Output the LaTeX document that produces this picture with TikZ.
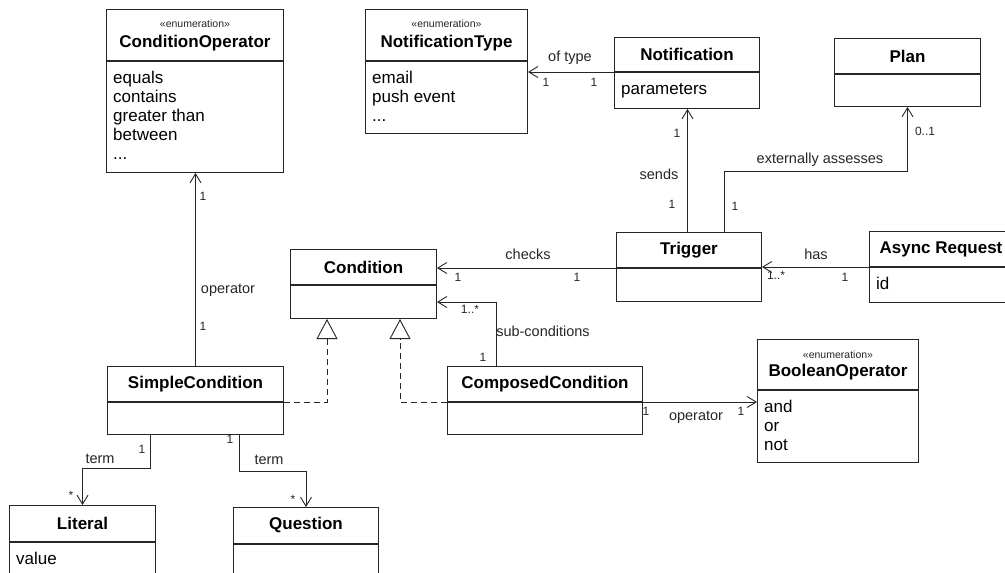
\documentclass[tikz,border=0pt]{standalone}
\usepackage{fontspec}
\setmainfont{Liberation Sans}
\usetikzlibrary{arrows.meta}

\colorlet{ink}{black!85}
\tikzset{
  hdr/.style={draw=ink, line width=1pt, fill=white, inner sep=0pt},
  bdy/.style={draw=ink, line width=1pt, fill=white, inner sep=0pt},
  cname/.style={inner sep=0pt, text=black, font=\fontsize{17}{20}\selectfont\bfseries},
  stereo/.style={inner sep=0pt, text=ink, font=\fontsize{10.5}{12}\selectfont},
  attrs/.style={anchor=north west, align=left, inner sep=0pt, text=black,
                font=\fontsize{17}{19}\selectfont},
  lbl/.style={inner sep=0pt, text=ink, font=\fontsize{14.5}{16}\selectfont},
  mult/.style={inner sep=0pt, text=ink, font=\fontsize{12}{14}\selectfont},
  assoc/.style={draw=ink, line width=0.9pt, -{Straight Barb[length=9pt,width=11pt]}},
  realize/.style={draw=ink, line width=0.9pt, dash pattern=on 6pt off 4pt,
                  -{Triangle[open,length=20pt,width=21pt,fill=white]}},
}

% header box (#1) and body box (#1-b): name, left, top, width, header height, body height
\newcommand{\classbox}[6]{%
  \node[hdr, minimum width=#4pt, minimum height=#5pt, anchor=north west] (#1) at (#2,#3) {};
  \node[bdy, minimum width=#4pt, minimum height=#6pt, anchor=north west] (#1-b) at (#1.south west) {};}

\begin{document}
\begin{tikzpicture}[x=1pt,y=-1pt]
\clip (0,0) rectangle (1005,573);
\fill[white] (0,0) rectangle (1005,573);

% ---------- classes ----------
\classbox{co}{106}{9}{177}{51}{111}
\node[stereo] (co-s) at ([yshift=-15pt]co.north) {«enumeration»};
\node[cname]  (co-n) at ([yshift=-34pt]co.north) {ConditionOperator};
\node[attrs]  (co-a) at ([shift={(7pt,-10pt)}]co-b.north west) {equals\\contains\\greater than\\between\\...};

\classbox{nt}{365}{9}{162}{51}{72}
\node[stereo] (nt-s) at ([yshift=-15pt]nt.north) {«enumeration»};
\node[cname]  (nt-n) at ([yshift=-34pt]nt.north) {NotificationType};
\node[attrs]  (nt-a) at ([shift={(7pt,-10pt)}]nt-b.north west) {email\\push event\\...};

\classbox{no}{614}{37}{145}{34}{36}
\node[cname] (no-n) at (no.center) {Notification};
\node[attrs] (no-a) at ([shift={(7pt,-11pt)}]no-b.north west) {parameters};

\classbox{pl}{834}{38}{146}{35}{32}
\node[cname] (pl-n) at (pl.center) {Plan};

\classbox{tr}{616}{232}{145}{35}{33}
\node[cname] (tr-n) at (tr.center) {Trigger};

\classbox{ar}{869}{231}{143}{35}{35}
\node[cname] (ar-n) at (ar.center) {Async Request};
\node[attrs] (ar-a) at ([shift={(7pt,-10pt)}]ar-b.north west) {id};

\classbox{cd}{290}{249}{146}{35}{33}
\node[cname] (cd-n) at (cd.center) {Condition};

\classbox{sc}{107}{366}{176}{35}{32}
\node[cname] (sc-n) at (sc.center) {SimpleCondition};

\classbox{cc}{447}{366}{195}{35}{32}
\node[cname] (cc-n) at (cc.center) {ComposedCondition};

\classbox{bo}{757}{339}{161}{50}{72}
\node[stereo] (bo-s) at ([yshift=-16pt]bo.north) {«enumeration»};
\node[cname]  (bo-n) at ([yshift=-33pt]bo.north) {BooleanOperator};
\node[attrs]  (bo-a) at ([shift={(7pt,-10pt)}]bo-b.north west) {and\\or\\not};

\classbox{li}{9}{505}{146}{36}{50}
\node[cname] (li-n) at (li.center) {Literal};
\node[attrs] (li-a) at ([shift={(7pt,-10pt)}]li-b.north west) {value};

\classbox{qu}{233}{507}{145}{36}{50}
\node[cname] (qu-n) at (qu.center) {Question};

% ---------- associations ----------
% Notification -> NotificationType
\draw[assoc] (no-b.north west) -- (no-b.north west -| nt-b.east);
\node[lbl]  (oftype)  at (570,58) {of type};
\node[mult] (oftype1) at (546,82) {1};
\node[mult] (oftype2) at (594,82) {1};

% Trigger -> Notification
\draw[assoc] ([xshift=-1.5pt]tr.north) -- ([xshift=-1.5pt]tr.north |- no-b.south);
\node[mult] (sends1) at (677,133) {1};
\node[lbl]  (sends)  at (659,174) {sends};
\node[mult] (sends2) at (672,204) {1};

% Trigger -> Plan
\draw[assoc] ([xshift=35.5pt]tr.north) |- ([yshift=-64pt]pl-b.south) -- (pl-b.south);
\node[lbl]  (extass)  at (820,160) {externally assesses};
\node[mult] (extass1) at (925,131) {0..1};
\node[mult] (extass2) at (735,206) {1};

% Async Request -> Trigger
\draw[assoc] (ar.south west) -- (ar.south west -| tr.east);
\node[lbl]  (has)  at (816,254) {has};
\node[mult] (has1) at (776,275) {1..*};
\node[mult] (has2) at (845,277) {1};

% Trigger -> Condition
\draw[assoc] (tr.south west) -- (tr.south west -| cd.east);
\node[lbl]  (checks)  at (528,254) {checks};
\node[mult] (checks1) at (458,277) {1};
\node[mult] (checks2) at (577,277) {1};

% ComposedCondition -> Condition
\draw[assoc] ([xshift=49pt]cc.north west) |- (cd-b.east);
\node[mult] (sub1) at (470,309) {1..*};
\node[lbl]  (sub)  at (543,331) {sub-conditions};
\node[mult] (sub2) at (483,357) {1};

% SimpleCondition -> ConditionOperator
\draw[assoc] (sc.north) -- (sc.north |- co-b.south);
\node[mult] (op1) at (203,196) {1};
\node[lbl]  (op)  at (228,290) {operator};
\node[mult] (op2) at (203,326) {1};

% SimpleCondition -> Literal
\draw[assoc] ([xshift=43pt]sc-b.south west) |- ([yshift=37pt]li.north) -- (li.north);
\node[mult] (lt1) at (142,449) {1};
\node[lbl]  (lt)  at (100,459) {term};
\node[mult] (lt2) at (71,495) {*};

% SimpleCondition -> Question
\draw[assoc] ([xshift=132pt]sc-b.south west) |- ([yshift=36pt]qu.north) -- (qu.north);
\node[mult] (qt1) at (230,439) {1};
\node[lbl]  (qt)  at (269,460) {term};
\node[mult] (qt2) at (293,499) {*};

% ComposedCondition -> BooleanOperator
\draw[assoc] (cc.south east) -- (cc.south east -| bo-b.west);
\node[mult] (bop1) at (646,411) {1};
\node[lbl]  (bop)  at (696,417) {operator};
\node[mult] (bop2) at (741,411) {1};

% ---------- realizations ----------
\coordinate (g1) at ([xshift=37pt]cd-b.south west);
\coordinate (g2) at ([xshift=110pt]cd-b.south west);
\draw[realize] (sc.south east) -| (g1);
\draw[realize] (cc.south west) -| (g2);
\end{tikzpicture}
\end{document}
